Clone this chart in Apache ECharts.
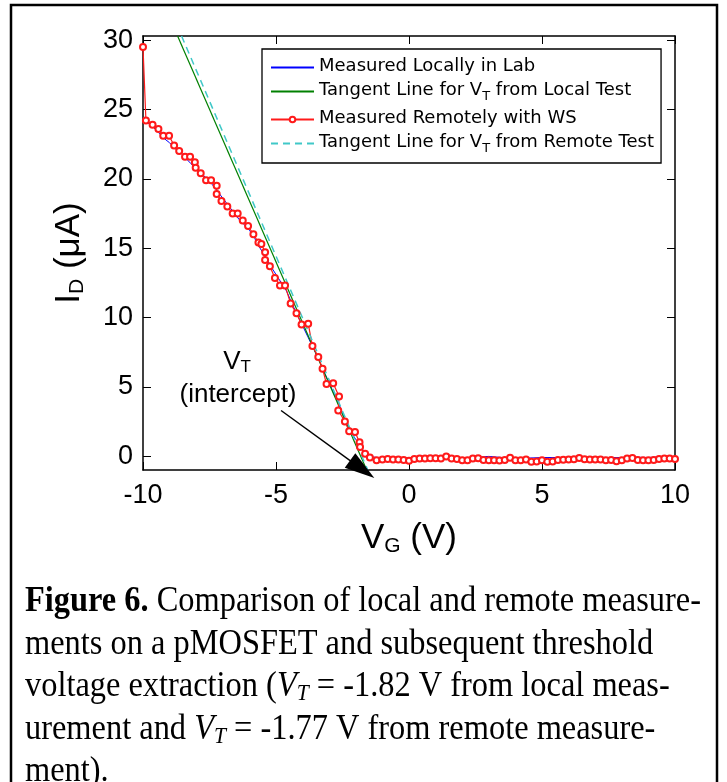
<!DOCTYPE html>
<html>
<head>
<meta charset="utf-8">
<script src="https://cdn.jsdelivr.net/npm/echarts@6/dist/echarts.min.js"></script>
<style>
html, body { margin: 0; padding: 0; background: #fff; }
#main { width: 727px; height: 782px; }
</style>
</head>
<body>
<div id="main"></div>
<script>
// tick values
var yTicks = [0, 5, 10, 15, 20, 25, 30];

// I_D (uA) vs V_G (V), measured locally
var localMeasured = [
    [-10, 24.4], [-9.8, 24.0], [-9.6, 23.7], [-9.4, 23.3], [-9.2, 22.9], [-9.0, 22.6],
    [-8.8, 22.2], [-8.6, 21.9], [-8.4, 21.5], [-8.2, 21.1], [-8.0, 20.7], [-7.8, 20.4],
    [-7.6, 20.0], [-7.4, 19.6], [-7.2, 19.1], [-7.0, 18.6], [-6.8, 18.1], [-6.6, 17.6],
    [-6.4, 17.1], [-6.2, 16.7], [-6.0, 16.3], [-5.8, 15.7], [-5.6, 15.0], [-5.4, 14.4],
    [-5.2, 13.7], [-5.0, 13.1], [-4.8, 12.5], [-4.6, 11.9], [-4.4, 11.0], [-4.2, 10.2],
    [-4.0, 9.4], [-3.8, 8.6], [-3.6, 7.8], [-3.4, 7.0], [-3.2, 6.1], [-3.0, 5.3],
    [-2.8, 4.4], [-2.6, 3.6], [-2.4, 2.6], [-2.2, 1.8], [-2.0, 1.2], [-1.8, 0.6],
    [-1.6, 0.2], [-1.4, -0.05], [-1.2, -0.1], [-1.0, -0.14], [-0.5, -0.12], [0, -0.12],
    [0.5, -0.1], [1.0, -0.1], [1.5, -0.1], [2.0, -0.12], [2.5, -0.08], [3.0, -0.02],
    [3.5, -0.1], [4.0, -0.1], [4.5, -0.14], [5.0, -0.1], [5.5, -0.1], [6.0, -0.1],
    [6.5, -0.1], [7.0, -0.08], [7.5, -0.1], [8.0, -0.1], [8.5, -0.08], [9.0, -0.1],
    [9.5, -0.05], [10, -0.1]
];

// measured remotely with the web service
var remoteMeasured = [
    [-10, 29.5], [-9.89, 24.2], [-9.64, 23.9], [-9.42, 23.6], [-9.24, 23.1], [-9.02, 23.1],
    [-8.83, 22.4], [-8.64, 22.0], [-8.42, 21.6], [-8.23, 21.6], [-8.05, 21.2], [-8.02, 20.8],
    [-7.83, 20.4], [-7.63, 19.9], [-7.44, 19.9], [-7.23, 19.5], [-7.23, 18.9], [-7.05, 18.4],
    [-6.83, 18.0], [-6.63, 17.5], [-6.44, 17.5], [-6.25, 17.0], [-6.05, 16.6], [-5.85, 16.0],
    [-5.66, 15.4], [-5.55, 15.3], [-5.41, 14.7], [-5.41, 14.15], [-5.23, 13.7], [-5.04, 12.85],
    [-4.85, 12.3], [-4.66, 12.3], [-4.45, 11.0], [-4.23, 10.3], [-4.04, 9.5], [-3.79, 9.55],
    [-3.63, 7.95], [-3.41, 7.15], [-3.25, 6.3], [-3.1, 5.2], [-2.85, 5.25], [-2.63, 4.3],
    [-2.66, 3.3], [-2.41, 2.5], [-2.25, 1.8], [-2.03, 1.74], [-1.86, 1.0], [-1.84, 0.65],
    [-1.65, 0.17], [-1.47, -0.1], [-1.22, -0.3],
    [-1.0, -0.24], [-0.8, -0.2], [-0.6, -0.24], [-0.4, -0.24], [-0.2, -0.27], [0.0, -0.33],
    [0.2, -0.2], [0.4, -0.17], [0.6, -0.17], [0.8, -0.15], [1.0, -0.15], [1.2, -0.17],
    [1.4, -0.02], [1.6, -0.17], [1.8, -0.2], [2.0, -0.3], [2.2, -0.3], [2.4, -0.17],
    [2.6, -0.15], [2.8, -0.28], [3.0, -0.3], [3.2, -0.3], [3.4, -0.31], [3.6, -0.28],
    [3.8, -0.12], [4.0, -0.3], [4.2, -0.3], [4.4, -0.25], [4.6, -0.4], [4.8, -0.38],
    [5.0, -0.3], [5.2, -0.4], [5.4, -0.38], [5.6, -0.28], [5.8, -0.26], [6.0, -0.24],
    [6.2, -0.22], [6.4, -0.14], [6.6, -0.22], [6.8, -0.24], [7.0, -0.24], [7.2, -0.24],
    [7.4, -0.3], [7.6, -0.28], [7.8, -0.36], [8.0, -0.3], [8.2, -0.17], [8.4, -0.14],
    [8.6, -0.28], [8.8, -0.3], [9.0, -0.3], [9.2, -0.28], [9.4, -0.2], [9.6, -0.17],
    [9.8, -0.17], [10.0, -0.2]
];

// tangent lines (end points)
var localTangent = [[-8.7, 30.3], [-1.59, -1]];
var remoteTangent = [[-8.55, 30.3], [-1.55, -1]];

// arrow pointing at the intercept
var arrowFrom = [-4.81, 3.29];
var arrowTo = [-1.76, -0.95];

var seriesNames = [
    'Measured Locally in Lab',
    'Tangent Line for VT from Local Test',
    'Measured Remotely with WS',
    'Tangent Line for VT from Remote Test'
];
var legendLabels = [
    '{t|Measured Locally in Lab}',
    '{t|Tangent Line for V}{sub|T}{t| from Local Test}',
    '{t|Measured Remotely with WS}',
    '{t|Tangent Line for V}{sub|T}{t| from Remote Test}'
];
var legendShowSymbol = [false, false, true, false];

var captionLines = [
    '{b|Figure 6.} Comparison of local and remote measure-',
    'ments on a pMOSFET and subsequent threshold',
    'voltage extraction ({i|V}{isub|T} = -1.82 V from local meas-',
    'urement and {i|V}{isub|T} = -1.77 V from remote measure-',
    'ment).'
];

var sans = 'Liberation Sans';
var serif = 'Liberation Serif';

var myChart = echarts.init(document.getElementById('main'));

var captionRich = {
    b: {fontFamily: serif, fontSize: 36, fontWeight: 'bold', color: '#000'},
    i: {fontFamily: serif, fontSize: 36, fontStyle: 'italic', color: '#000'},
    isub: {fontFamily: serif, fontSize: 24, fontStyle: 'italic', color: '#000', padding: [14, 0, 0, 0]}
};

var graphics = [{
    type: 'rect',
    silent: true,
    shape: {x: 11, y: 5, width: 706, height: 800},
    style: {fill: 'none', stroke: '#000', lineWidth: 2.5}
}, {
    type: 'text',
    x: 237, y: 362,
    style: {
        text: '{n|V}{s|T}',
        align: 'center', verticalAlign: 'middle',
        rich: {
            n: {fontFamily: sans, fontSize: 26, color: '#000'},
            s: {fontFamily: sans, fontSize: 17, color: '#000', padding: [10, 0, 0, 0]}
        }
    }
}, {
    type: 'text',
    x: 238, y: 395,
    style: {text: '(intercept)', fontFamily: sans, fontSize: 26, fill: '#000', align: 'center', verticalAlign: 'middle'}
}];

for (var k = 0; k < captionLines.length; k++) {
    graphics.push({
        type: 'text',
        x: 25, y: 602 + k * 42.5,
        scaleX: 0.9,
        style: {
            text: captionLines[k],
            fontFamily: serif, fontSize: 36, fill: '#000',
            align: 'left', verticalAlign: 'middle',
            rich: captionRich
        }
    });
}

var axisLineStyle = {color: '#000', width: 1.5};

var legendData = seriesNames.map(function (name, i) {
    return legendShowSymbol[i] ? {name: name} : {name: name, itemStyle: {opacity: 0}};
});

var option = {
    animation: false,
    backgroundColor: '#fff',
    grid: {left: 143, top: 36, right: 52, bottom: 312},
    legend: {
        orient: 'vertical',
        left: 262, top: 49,
        data: legendData,
        itemWidth: 43, itemHeight: 7, itemGap: 6,
        padding: [8, 7, 8, 8],
        borderColor: '#000', borderWidth: 1.3, backgroundColor: '#fff',
        selectedMode: false,
        formatter: function (name) {
            return legendLabels[seriesNames.indexOf(name)];
        },
        textStyle: {
            fontFamily: 'DejaVu Sans', fontSize: 18, color: '#000',
            rich: {
                t: {fontFamily: 'DejaVu Sans', fontSize: 18, lineHeight: 21, color: '#000', verticalAlign: 'top'},
                sub: {fontFamily: 'DejaVu Sans', fontSize: 13, lineHeight: 20, color: '#000', verticalAlign: 'top', padding: [9, 0, 0, 0]}
            }
        }
    },
    xAxis: [{
        type: 'value', min: -10, max: 10, interval: 5, position: 'bottom',
        axisLine: {onZero: false, lineStyle: axisLineStyle},
        axisTick: {inside: true, length: 8, lineStyle: {color: '#000'}},
        axisLabel: {color: '#000', fontSize: 27, fontFamily: sans, margin: 12},
        splitLine: {show: false},
        name: '{n|V}{s|G}{n| (V)}',
        nameLocation: 'middle', nameGap: 50,
        nameTextStyle: {
            rich: {
                n: {fontFamily: sans, fontSize: 35, color: '#000'},
                s: {fontFamily: sans, fontSize: 21, color: '#000', padding: [16, 0, 0, 0]}
            }
        }
    }, {
        type: 'value', min: -10, max: 10, interval: 5, position: 'top',
        axisLine: {onZero: false, lineStyle: axisLineStyle},
        axisTick: {inside: true, length: 8, lineStyle: {color: '#000'}},
        axisLabel: {show: false},
        splitLine: {show: false}
    }],
    yAxis: [{
        type: 'value', min: -1, max: 30.3, position: 'left',
        axisLine: {onZero: false, lineStyle: axisLineStyle},
        axisTick: {inside: true, length: 8, lineStyle: {color: '#000'}, customValues: yTicks},
        axisLabel: {color: '#000', fontSize: 27, fontFamily: sans, margin: 10, customValues: yTicks},
        splitLine: {show: false},
        name: '{n|I}{s|D}{n| (μA)}',
        nameLocation: 'middle', nameGap: 55,
        nameTextStyle: {
            rich: {
                n: {fontFamily: sans, fontSize: 35, color: '#000'},
                s: {fontFamily: sans, fontSize: 21, color: '#000', padding: [16, 0, 0, 0]}
            }
        }
    }, {
        type: 'value', min: -1, max: 30.3, position: 'right',
        axisLine: {onZero: false, lineStyle: axisLineStyle},
        axisTick: {inside: true, length: 8, lineStyle: {color: '#000'}, customValues: yTicks},
        axisLabel: {show: false, customValues: yTicks},
        splitLine: {show: false}
    }],
    series: [{
        name: seriesNames[0], type: 'line', data: localMeasured,
        symbol: 'none', lineStyle: {color: '#0000ff', width: 1}, itemStyle: {color: '#0000ff'}
    }, {
        name: seriesNames[1], type: 'line', data: localTangent,
        symbol: 'none', lineStyle: {color: '#008000', width: 1.2}, itemStyle: {color: '#008000'}
    }, {
        name: seriesNames[2], type: 'line', data: remoteMeasured,
        symbol: 'emptyCircle', symbolSize: 6, showAllSymbol: true,
        lineStyle: {color: '#ff1a1a', width: 1.2},
        itemStyle: {color: '#ff1a1a', borderColor: '#ff1a1a', borderWidth: 1.1}
    }, {
        name: seriesNames[3], type: 'line', data: remoteTangent,
        symbol: 'none', lineStyle: {color: '#40c8c8', width: 1.5, type: [7, 5]}, itemStyle: {color: '#40c8c8'}
    }, {
        name: 'arrow', type: 'line', data: [],
        markLine: {
            silent: true,
            symbol: ['none', 'path://M0,0 L6,14 L-6,14 Z'],
            symbolSize: [0, 24],
            label: {show: false},
            lineStyle: {color: '#000', width: 1.5, type: 'solid'},
            data: [[
                {coord: arrowFrom, symbol: 'none'},
                {coord: arrowTo, symbolSize: [18, 30]}
            ]]
        }
    }],
    graphic: graphics
};

myChart.setOption(option);
</script>
</body>
</html>
